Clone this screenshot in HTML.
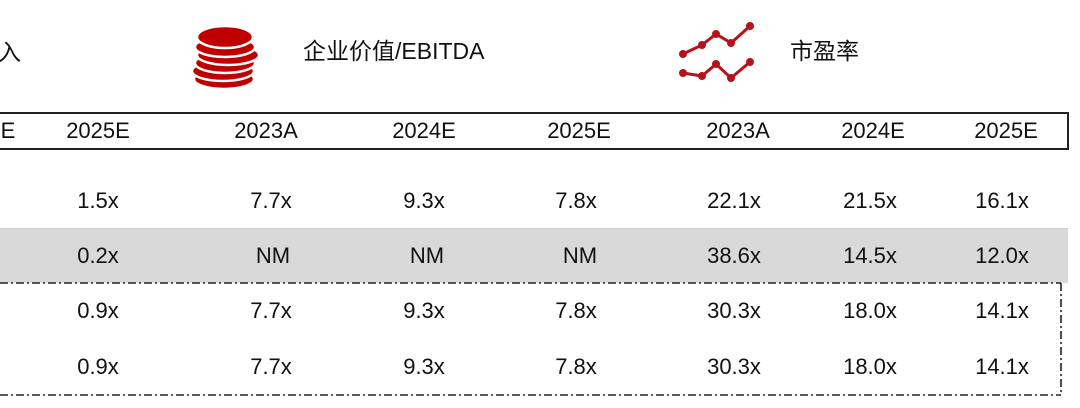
<!DOCTYPE html>
<html><head><meta charset="utf-8"><style>
body{margin:0;width:1080px;height:408px;background:#fff;position:relative;overflow:hidden;font-family:"Liberation Sans","Noto Sans CJK SC",sans-serif;color:#111}
.t{position:absolute;font-size:22px;transform:translateX(-50%);white-space:nowrap;line-height:1}
.h{position:absolute;font-size:23px;white-space:nowrap;line-height:1}
</style></head><body>
<div class="h" style="left:-2px;top:41px">入</div>
<svg style="position:absolute;left:190px;top:22px" width="72" height="70" viewBox="0 0 72 70">
<g fill="#c00000" stroke="#fff" stroke-width="2.5">
<ellipse cx="34" cy="57" rx="30" ry="10"/>
<ellipse cx="33" cy="49" rx="31" ry="10"/>
<ellipse cx="35" cy="41" rx="30" ry="10"/>
<ellipse cx="38" cy="33" rx="31" ry="10"/>
<ellipse cx="35" cy="25" rx="30" ry="10"/>
<ellipse cx="35" cy="15" rx="28" ry="11"/>
</g></svg>
<div class="h" style="left:303px;top:40px">企业价值/EBITDA</div>
<svg style="position:absolute;left:678px;top:20px" width="80" height="65" viewBox="678 20 80 65">
<g stroke="#b5121b" stroke-width="3" fill="#b5121b">
<polyline fill="none" points="683,54 702,45 716,34 731,43 750,26"/>
<polyline fill="none" points="683,73 702,76 716,64 731,78 750,62"/>
<circle cx="683" cy="54" r="2.5"/><circle cx="702" cy="45" r="2.5"/><circle cx="716" cy="34" r="2.5"/><circle cx="731" cy="43" r="2.5"/><circle cx="750" cy="26" r="2.5"/>
<circle cx="683" cy="73" r="2.5"/><circle cx="702" cy="76" r="2.5"/><circle cx="716" cy="64" r="2.5"/><circle cx="731" cy="78" r="2.5"/><circle cx="750" cy="62" r="2.5"/>
</g></svg>
<div class="h" style="left:790px;top:40px">市盈率</div>
<div style="position:absolute;left:-2px;top:112px;width:1067px;height:34px;border:2px solid #222"></div>
<div style="position:absolute;left:0;top:228px;width:1068px;height:1px;background:#ccc"></div>
<div style="position:absolute;left:0;top:229px;width:1068px;height:54px;background:#d9d9d9"></div>
<svg style="position:absolute;left:0;top:280px" width="1080" height="120">
<g stroke="#222" stroke-width="1.6" fill="none" stroke-dasharray="8 3 2 3">
<line x1="0" y1="3" x2="1061" y2="3"/>
<line x1="0" y1="115" x2="1061" y2="115"/>
<line x1="1061" y1="3" x2="1061" y2="115"/>
</g></svg>
<div class="t" style="left:8px;top:120px">E</div>
<div class="t" style="left:98px;top:120px">2025E</div>
<div class="t" style="left:266px;top:120px">2023A</div>
<div class="t" style="left:424px;top:120px">2024E</div>
<div class="t" style="left:579px;top:120px">2025E</div>
<div class="t" style="left:738px;top:120px">2023A</div>
<div class="t" style="left:873px;top:120px">2024E</div>
<div class="t" style="left:1006px;top:120px">2025E</div>

<div class="t" style="left:98px;top:190px">1.5x</div><div class="t" style="left:271px;top:190px">7.7x</div><div class="t" style="left:424px;top:190px">9.3x</div><div class="t" style="left:576px;top:190px">7.8x</div><div class="t" style="left:734px;top:190px">22.1x</div><div class="t" style="left:870px;top:190px">21.5x</div><div class="t" style="left:1002px;top:190px">16.1x</div>
<div class="t" style="left:98px;top:245px">0.2x</div><div class="t" style="left:273px;top:245px">NM</div><div class="t" style="left:427px;top:245px">NM</div><div class="t" style="left:580px;top:245px">NM</div><div class="t" style="left:734px;top:245px">38.6x</div><div class="t" style="left:870px;top:245px">14.5x</div><div class="t" style="left:1002px;top:245px">12.0x</div>
<div class="t" style="left:98px;top:300px">0.9x</div><div class="t" style="left:271px;top:300px">7.7x</div><div class="t" style="left:424px;top:300px">9.3x</div><div class="t" style="left:576px;top:300px">7.8x</div><div class="t" style="left:734px;top:300px">30.3x</div><div class="t" style="left:870px;top:300px">18.0x</div><div class="t" style="left:1002px;top:300px">14.1x</div>
<div class="t" style="left:98px;top:356px">0.9x</div><div class="t" style="left:271px;top:356px">7.7x</div><div class="t" style="left:424px;top:356px">9.3x</div><div class="t" style="left:576px;top:356px">7.8x</div><div class="t" style="left:734px;top:356px">30.3x</div><div class="t" style="left:870px;top:356px">18.0x</div><div class="t" style="left:1002px;top:356px">14.1x</div>
</body></html>
